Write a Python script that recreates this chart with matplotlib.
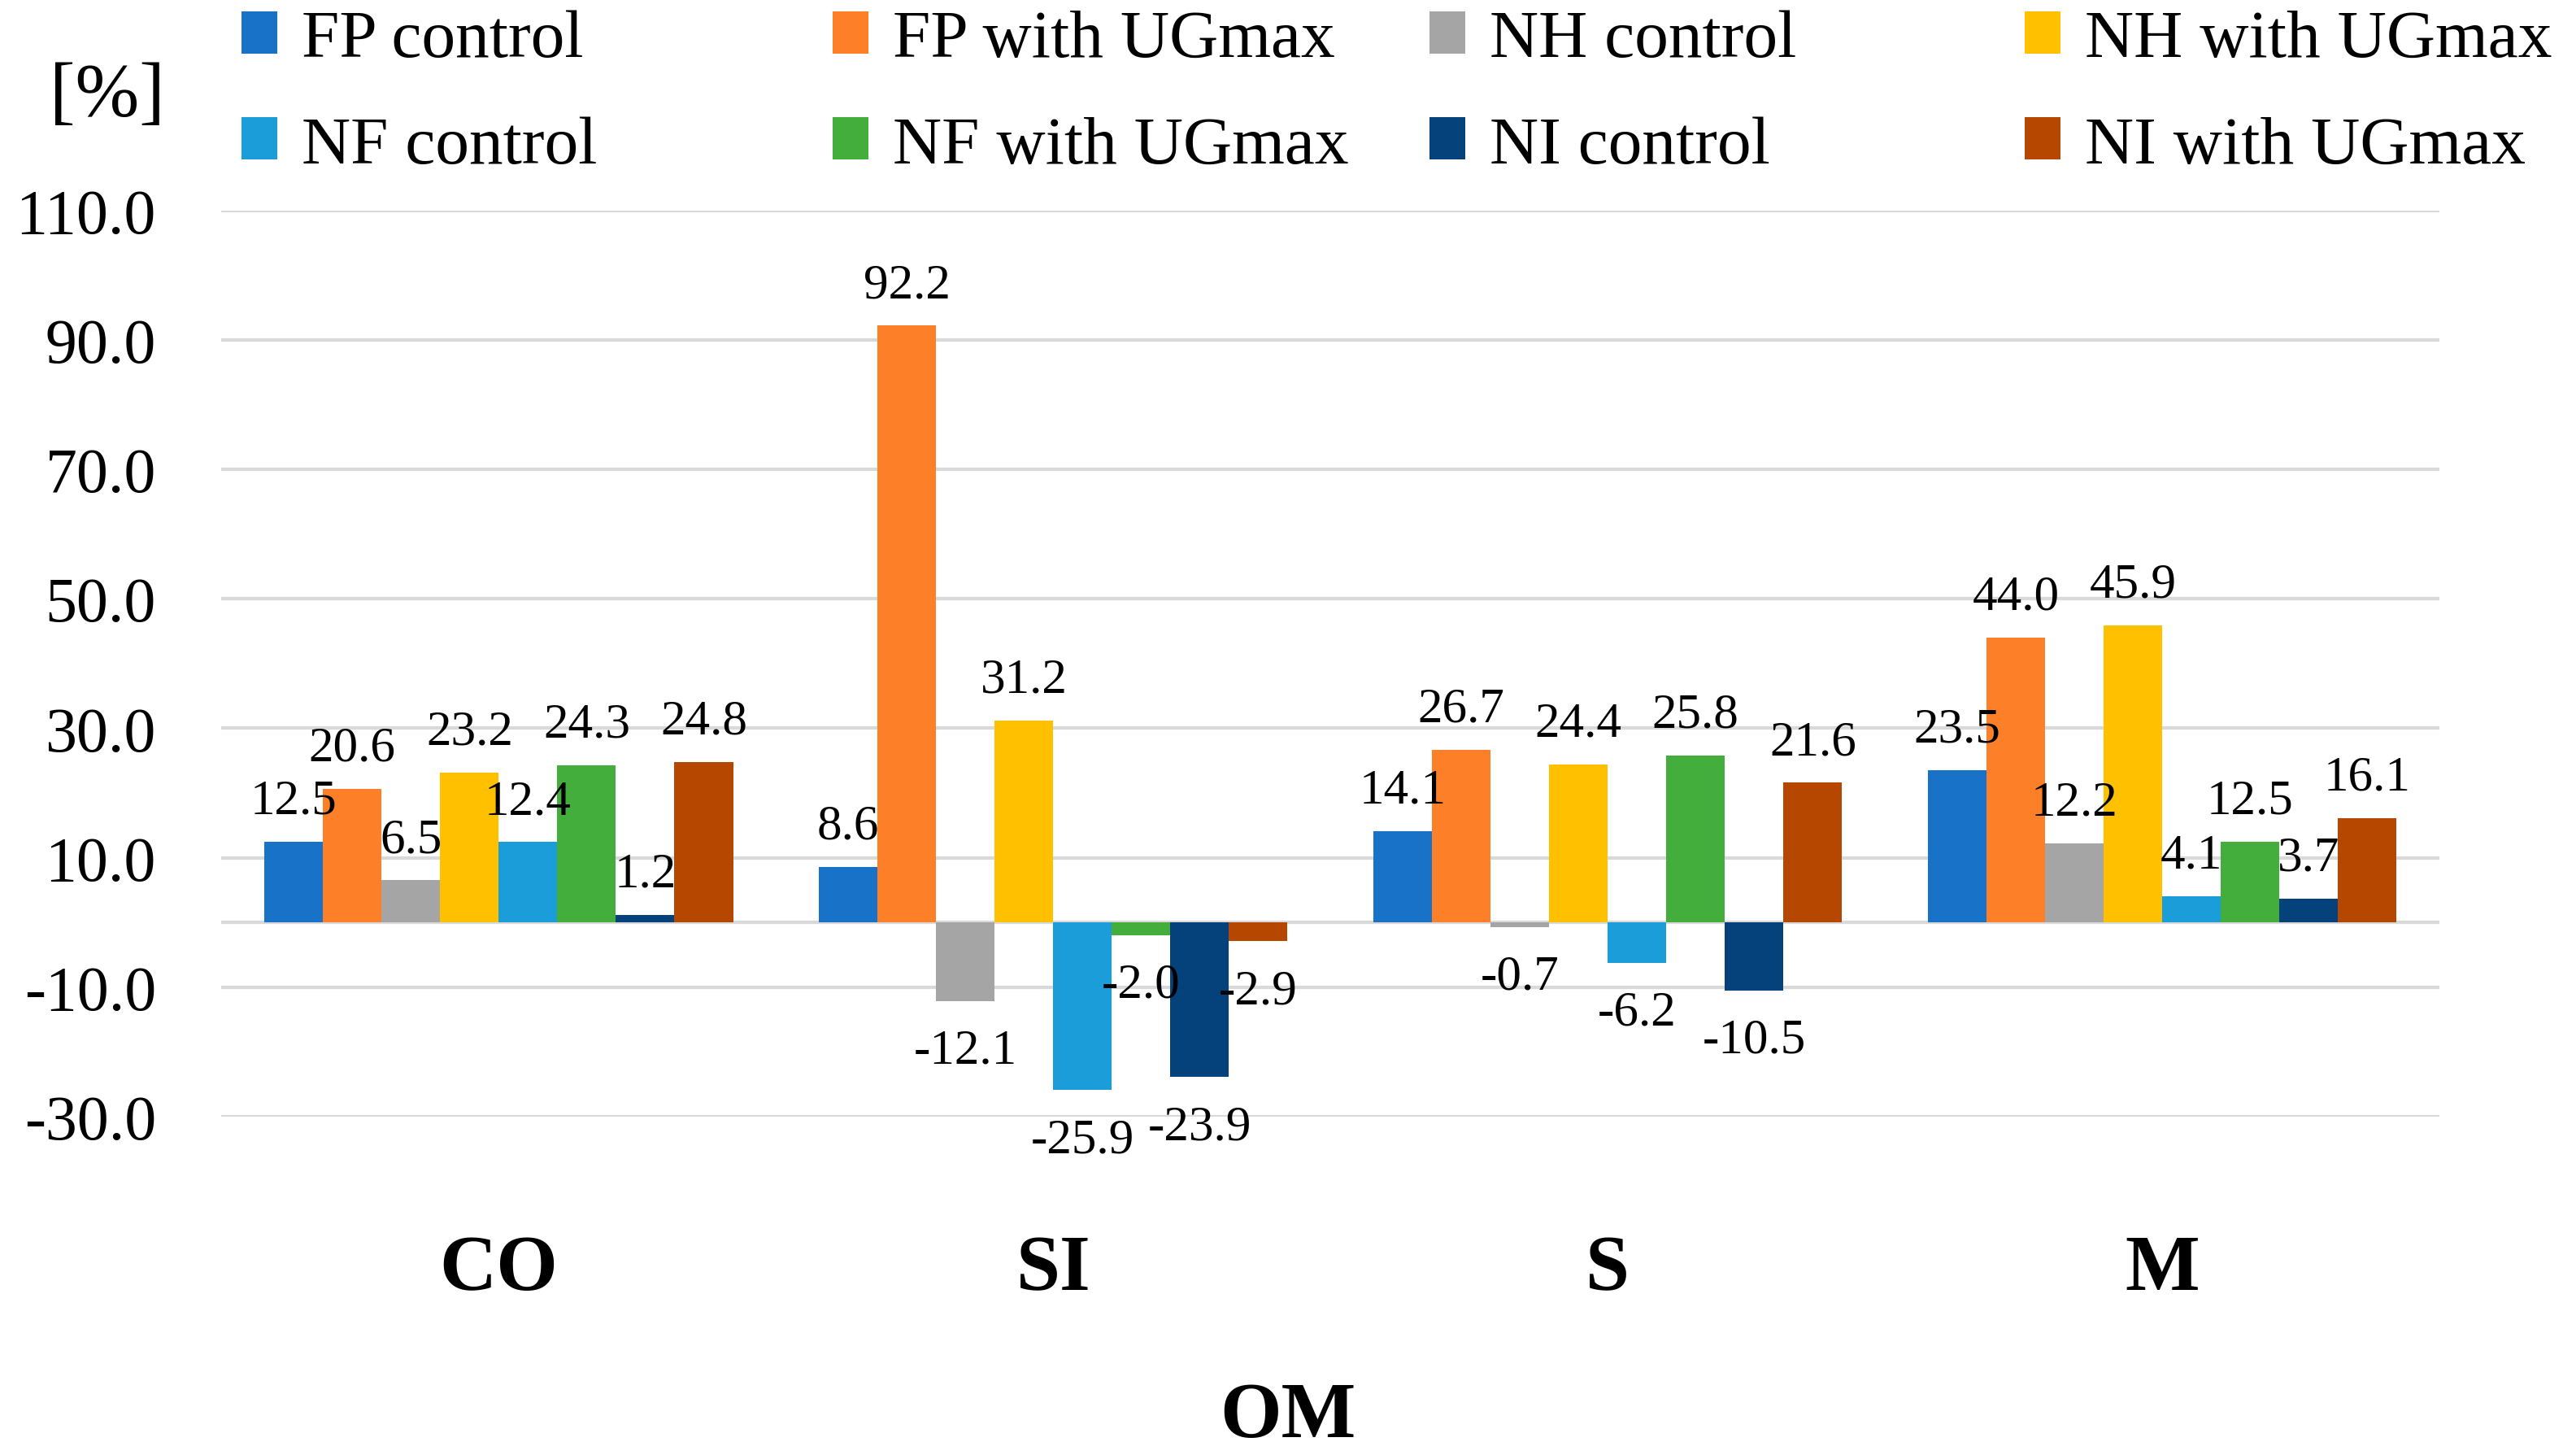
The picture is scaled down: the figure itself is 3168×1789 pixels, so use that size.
import numpy as np
import matplotlib
matplotlib.use("Agg")
import matplotlib.pyplot as plt

# data
categories = ["CO", "SI", "S", "M"]
series_names = ["FP control", "FP with UGmax", "NH control", "NH with UGmax",
                "NF control", "NF with UGmax", "NI control", "NI with UGmax"]
fp_control = [12.5, 8.6, 14.1, 23.5]
fp_ugmax = [20.6, 92.2, 26.7, 44.0]
nh_control = [6.5, -12.1, -0.7, 12.2]
nh_ugmax = [23.2, 31.2, 24.4, 45.9]
nf_control = [12.4, -25.9, -6.2, 4.1]
nf_ugmax = [24.3, -2.0, 25.8, 12.5]
ni_control = [1.2, -23.9, -10.5, 3.7]
ni_ugmax = [24.8, -2.9, 21.6, 16.1]
series_values = [fp_control, fp_ugmax, nh_control, nh_ugmax,
                 nf_control, nf_ugmax, ni_control, ni_ugmax]
y_ticks = [-30, -10, 10, 30, 50, 70, 90, 110]

colors = ["#1872C8", "#FD7F27", "#A5A5A5", "#FFC000",
          "#1A9DD9", "#44AE3C", "#05427C", "#B54700"]

plt.rcParams["font.family"] = ["Liberation Serif", "DejaVu Serif"]

fig = plt.figure(figsize=(15.84, 8.95), dpi=200)
ax = fig.add_axes([0.086, 0.2324, 0.861, 0.6226])

x = np.arange(len(categories))
group_w = 0.845
bar_w = group_w / len(series_names)

handles = []
for i, (name, vals) in enumerate(zip(series_names, series_values)):
    pos = x - group_w / 2 + bar_w * (i + 0.5)
    bars = ax.bar(pos, vals, width=bar_w, color=colors[i], label=name, zorder=3)
    handles.append(bars)
    for b, v in zip(bars, vals):
        cx = b.get_x() + b.get_width() / 2
        if v >= 0:
            ax.annotate(f"{v:.1f}", (cx, v), xytext=(0, 8), textcoords="offset points",
                        ha="center", va="bottom", fontsize=22, zorder=5)
        else:
            ax.annotate(f"{v:.1f}", (cx, v), xytext=(0, -12), textcoords="offset points",
                        ha="center", va="top", fontsize=22, zorder=5)

ax.set_xlim(-0.5, len(categories) - 0.5)
ax.set_ylim(-30, 110)
ax.set_yticks(y_ticks)
ax.set_yticklabels([f"{t:.1f}" for t in y_ticks])
ax.yaxis.grid(True, color="#D9D9D9", linewidth=1.5, zorder=0)
ax.axhline(0, color="#D9D9D9", linewidth=1.5, zorder=1)
for s in ax.spines.values():
    s.set_visible(False)
ax.tick_params(axis="y", length=0, pad=29, labelsize=28)
ax.set_xticks(x)
ax.set_xticklabels(categories, fontsize=35, fontweight="bold")
ax.tick_params(axis="x", length=0, pad=52)
ax.set_xlabel("OM", fontsize=35, fontweight="bold", labelpad=33)
ax.xaxis.label.set_x((0.5 - 0.086) / 0.861)

fig.text(0.0415, 0.933, "[%]", fontsize=34, ha="center", va="center")

# legend: 4 equal-width columns, 2 rows
col_x = [0.0938, 0.3233, 0.555, 0.786]
for c in range(4):
    idx = [c, c + 4]
    fig.legend([handles[i] for i in idx], [series_names[i] for i in idx],
               loc="upper left", bbox_to_anchor=(col_x[c], 0.993), frameon=False,
               fontsize=30, handlelength=0.53, handleheight=0.58, handletextpad=0.36,
               labelspacing=0.66, borderpad=0, borderaxespad=0)

fig.savefig("out.png", dpi=200, facecolor="white")
